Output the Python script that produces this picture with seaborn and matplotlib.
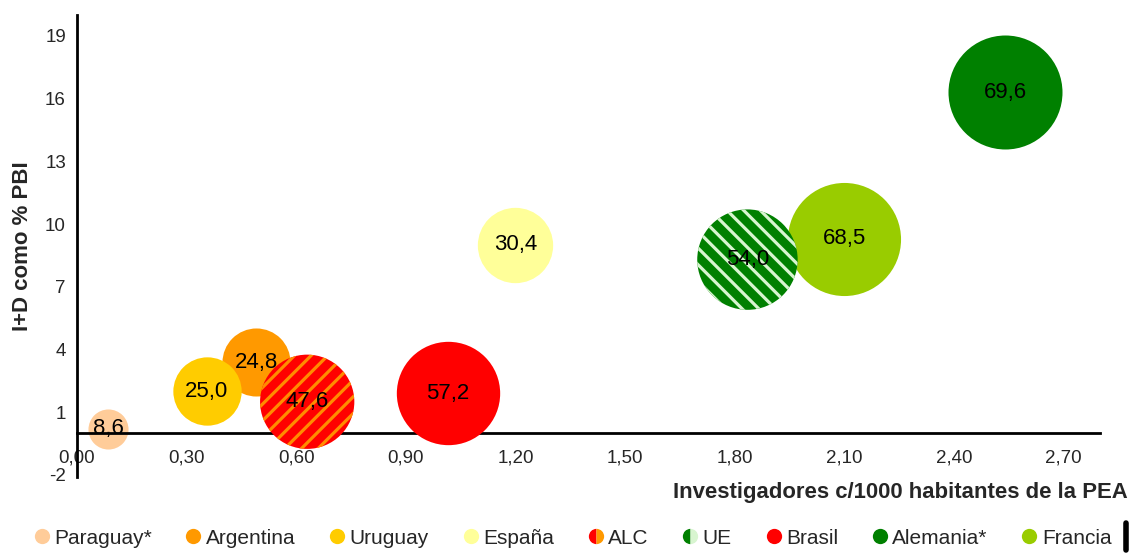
import matplotlib
matplotlib.use("Agg")
import matplotlib.pyplot as plt
import seaborn as sns
import pandas as pd
from matplotlib.lines import Line2D
from matplotlib.ticker import FuncFormatter

# datos
paises = ['Paraguay*', 'Argentina', 'Uruguay', 'España', 'ALC', 'UE', 'Brasil', 'Alemania*', 'Francia']
investigadores = [0.085, 0.49, 0.355, 1.20, 0.63, 1.835, 1.015, 2.54, 2.10]
id_pbi = [0.2, 3.4, 2.0, 9.0, 1.5, 8.3, 1.9, 16.3, 9.3]
burbuja = [8.6, 24.8, 25.0, 30.4, 47.6, 54.0, 57.2, 69.6, 68.5]
etiquetas = ['8,6', '24,8', '25,0', '30,4', '47,6', '54,0', '57,2', '69,6', '68,5']
colores = ['#FFCC99', '#FF9900', '#FFCC00', '#FFFF99', '#FF0000', '#008000', '#FF0000', '#008000', '#99CC00']
rayas = {'ALC': ('//', '#FF8C00'), 'UE': ('\\\\', '#D8F5D0')}

x_ticks = [0.0, 0.3, 0.6, 0.9, 1.2, 1.5, 1.8, 2.1, 2.4, 2.7]
y_ticks = [-2, 1, 4, 7, 10, 13, 16, 19]

df = pd.DataFrame({'pais': paises, 'x': investigadores, 'y': id_pbi, 'valor': burbuja})

sns.set_style("white")
plt.rcParams['font.family'] = ['Liberation Sans', 'DejaVu Sans']
plt.rcParams['hatch.linewidth'] = 2.3

fig = plt.figure(figsize=(11.31, 5.53), dpi=100)
ax = fig.add_axes([0.0681, 0.1374, 0.9045, 0.8354])

escala = 96.8  # puntos^2 por unidad de burbuja
paleta = dict(zip(paises, colores))

# burbujas sin rayado (Paraguay queda debajo del eje, como en el original)
lisos = df[~df['pais'].isin(rayas.keys())]
for p, sub in lisos.groupby('pais', sort=False):
    sns.scatterplot(data=sub, x='x', y='y', color=paleta[p], s=sub['valor'].iloc[0] * escala,
                    linewidth=0, legend=False, ax=ax, zorder=2 if p == 'Paraguay*' else 3)

# burbujas rayadas (ALC, UE)
for p, (h, c) in rayas.items():
    sub = df[df['pais'] == p]
    with plt.rc_context({'hatch.color': c}):
        sns.scatterplot(data=sub, x='x', y='y', color=paleta[p], s=sub['valor'].iloc[0] * escala,
                        hatch=h, edgecolor=c, linewidth=0, legend=False, ax=ax, zorder=3)

for xi, yi, t in zip(investigadores, id_pbi, etiquetas):
    ax.text(xi, yi, t, ha='center', va='center', fontsize=16, color='black', zorder=5)

ax.set_xlim(0, 2.80)
ax.set_ylim(-2.1, 20)
ax.set_xticks(x_ticks)
ax.set_yticks(y_ticks)
ax.xaxis.set_major_formatter(FuncFormatter(lambda v, _: f'{v:.2f}'.replace('.', ',')))
ax.yaxis.set_major_formatter(FuncFormatter(lambda v, _: f'{v:.0f}'))

ax.spines['top'].set_visible(False)
ax.spines['right'].set_visible(False)
ax.spines['bottom'].set_position(('data', 0))
for s in ['bottom', 'left']:
    ax.spines[s].set_linewidth(2)
    ax.spines[s].set_color('black')
ax.tick_params(axis='x', direction='inout', length=6, width=2, labelsize=13.5, pad=9)
ax.tick_params(axis='y', direction='out', length=5, width=2, labelsize=13.5, pad=3)
ax.set_xlabel('')
ax.set_ylabel('I+D como % PBI', fontsize=16, fontweight='bold', labelpad=9)

fig.text(0.997, 0.11, 'Investigadores c/1000 habitantes de la PEA', ha='right', va='center',
         fontsize=15.9, fontweight='bold')

# leyenda
handles = []
for p, c in zip(paises, colores):
    if p == 'ALC':
        handles.append(Line2D([], [], marker='o', linestyle='', markersize=11, markeredgewidth=0,
                              markerfacecolor='#FF0000', markerfacecoloralt='#FF9900', fillstyle='left'))
    elif p == 'UE':
        handles.append(Line2D([], [], marker='o', linestyle='', markersize=11, markeredgewidth=0,
                              markerfacecolor='#008000', markerfacecoloralt='#D8F5D0', fillstyle='left'))
    else:
        handles.append(Line2D([], [], marker='o', linestyle='', markersize=11, markeredgewidth=0,
                              markerfacecolor=c))
fig.legend(handles, paises, loc='center', bbox_to_anchor=(0.507, 0.027), ncol=9, frameon=False,
           fontsize=15, handlelength=0.6, handletextpad=0.3, columnspacing=1.7)

fig.add_artist(Line2D([0.9955, 0.9955], [0.005, 0.055], transform=fig.transFigure, color='black', linewidth=4))

fig.savefig('out.png', dpi=100)
